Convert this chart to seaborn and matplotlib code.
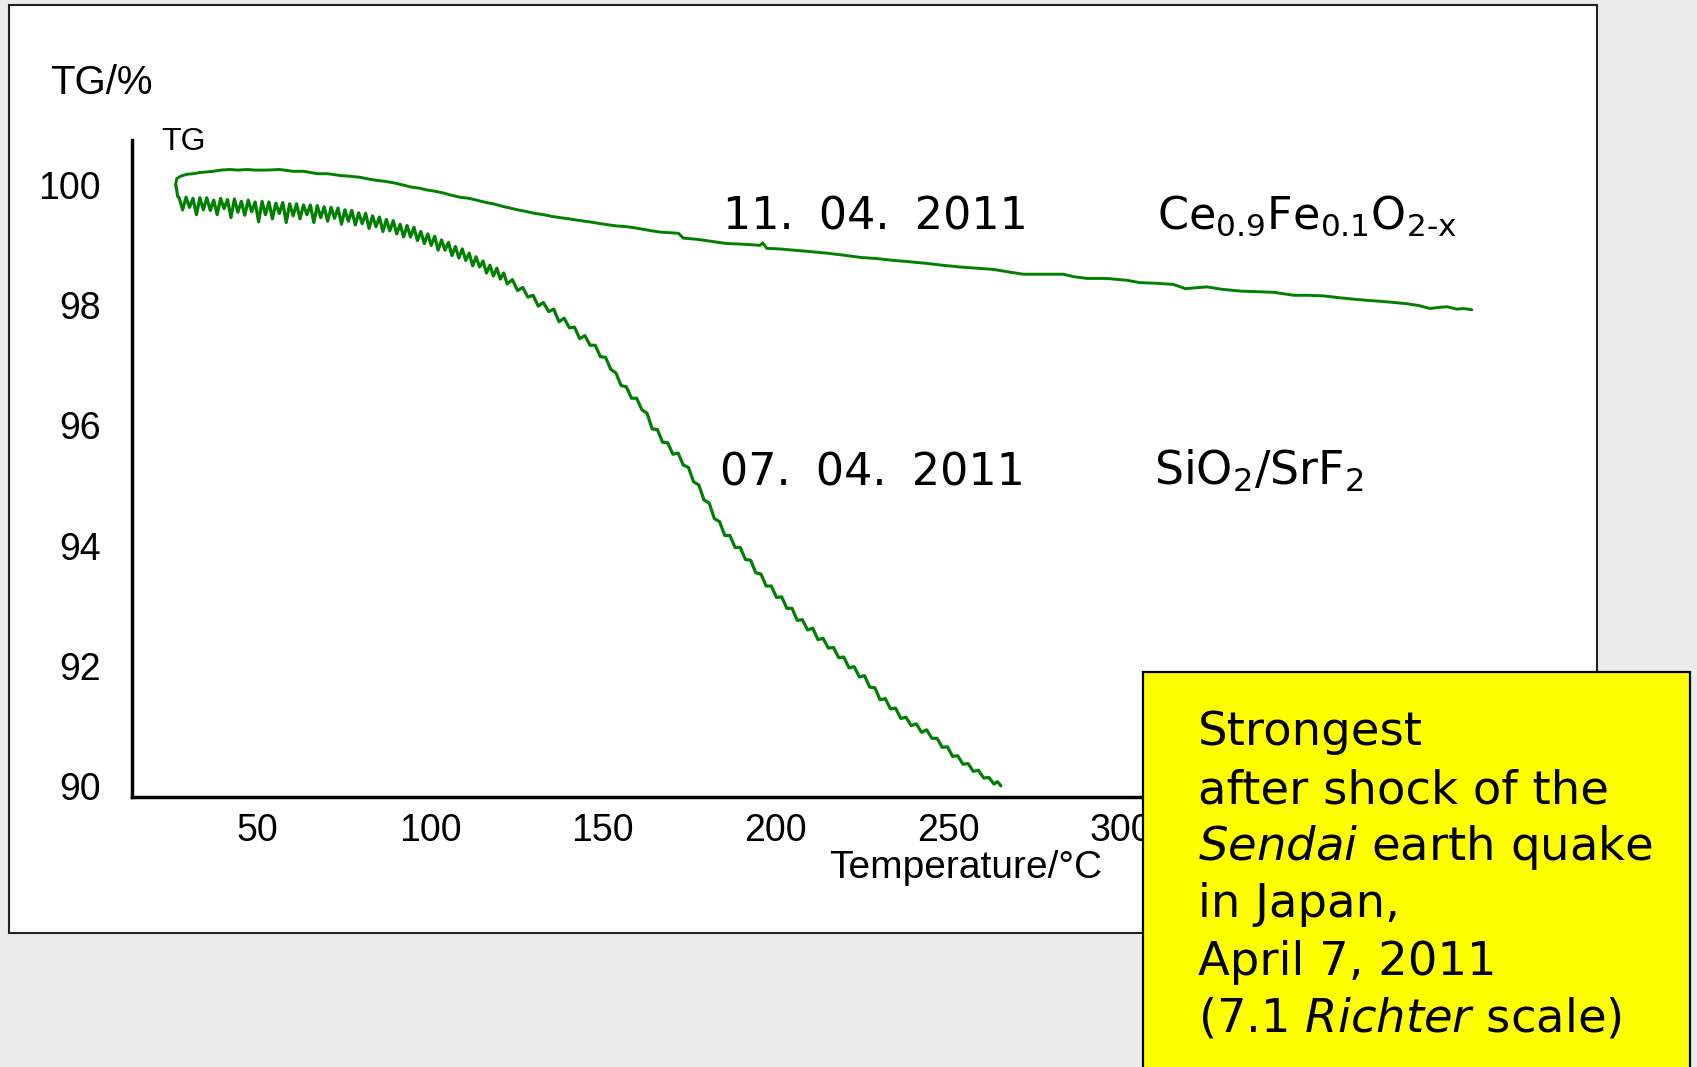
import matplotlib
matplotlib.use("Agg")
import matplotlib.pyplot as plt
from matplotlib.patches import Rectangle
from matplotlib.ticker import MultipleLocator
from matplotlib.transforms import ScaledTranslation
import pandas as pd
import seaborn as sns

# ---- TG curves (temperature in °C, mass in %) ----
# Ce0.9Fe0.1O2-x, measured 11.04.2011
ce_temp = [24.0, 24.3, 25.5, 27.2, 29.0, 31.0, 33.0, 34.9, 37.0, 39.7, 42.0, 44.6, 47.0,
           50.3, 54.0, 58.0, 61.0, 65.0, 68.0, 71.6, 74.0, 77.4, 80.0, 82.2, 85.0, 87.0,
           90.0, 92.0, 94.5, 96.7, 99.0, 101.5, 104.0, 106.3, 109.0, 111.2, 114.0, 116.0,
           118.5, 120.8, 123.0, 125.7, 128.0, 130.5, 133.0, 135.3, 138.0, 140.1, 142.5,
           145.0, 147.0, 149.3, 152.0, 154.6, 157.0, 159.0, 162.0, 164.3, 167.0, 169.6,
           171.0, 175.0, 178.7, 181.0, 183.6, 188.0, 193.2, 194.0, 195.2, 199.0, 202.9,
           207.0, 212.6, 217.0, 222.2, 227.0, 231.8, 236.0, 241.5, 246.0, 251.2, 256.0,
           260.8, 265.0, 269.5, 274.3, 281.1, 284.0, 287.9, 293.6, 299.4, 303.3, 308.0,
           313.0, 316.4, 322.6, 327.0, 332.3, 337.0, 342.0, 347.8, 352.0, 356.4, 361.0,
           366.1, 372.9, 377.0, 380.6, 384.0, 387.3, 390.0, 392.2, 395.1, 397.0, 399.4]
ce_tg = [100.00, 100.10, 100.14, 100.17, 100.18, 100.20, 100.21, 100.22, 100.24, 100.25,
         100.24, 100.25, 100.24, 100.24, 100.25, 100.22, 100.22, 100.18, 100.18, 100.15,
         100.14, 100.12, 100.09, 100.07, 100.05, 100.03, 99.99, 99.96, 99.94, 99.91,
         99.89, 99.86, 99.82, 99.79, 99.77, 99.74, 99.70, 99.68, 99.64, 99.61, 99.58,
         99.55, 99.52, 99.50, 99.47, 99.45, 99.43, 99.41, 99.39, 99.37, 99.35, 99.33,
         99.31, 99.30, 99.28, 99.26, 99.23, 99.21, 99.20, 99.19, 99.11, 99.09, 99.06,
         99.04, 99.02, 99.01, 98.99, 99.03, 98.94, 98.93, 98.91, 98.89, 98.86, 98.83,
         98.79, 98.77, 98.74, 98.72, 98.69, 98.66, 98.63, 98.61, 98.59, 98.55, 98.51,
         98.51, 98.51, 98.47, 98.44, 98.44, 98.41, 98.37, 98.36, 98.34, 98.27, 98.30,
         98.26, 98.23, 98.22, 98.21, 98.16, 98.16, 98.15, 98.12, 98.09, 98.06, 98.04,
         98.02, 97.99, 97.94, 97.96, 97.97, 97.93, 97.94, 97.92]

# SiO2/SrF2, measured 07.04.2011 (noisy trace)
sio2_temp = [24.0, 24.3, 24.6, 25.0, 26.0, 27.0, 28.0, 29.0, 30.0, 31.0, 32.0, 33.0, 34.0,
             35.0, 36.0, 37.0, 38.0, 39.0, 40.0, 41.0, 42.0, 43.0, 44.0, 45.0, 46.0, 47.0,
             48.0, 49.0, 50.0, 51.0, 52.0, 53.0, 54.0, 55.0, 56.0, 57.0, 58.0, 59.0, 60.0,
             61.0, 62.0, 63.0, 64.0, 65.0, 66.0, 67.0, 68.0, 69.0, 70.0, 71.0, 72.0, 73.0,
             74.0, 75.0, 76.0, 77.0, 78.0, 79.0, 80.0, 81.0, 82.0, 83.0, 84.0, 85.0, 86.0,
             87.0, 88.0, 89.0, 90.0, 91.0, 92.0, 93.0, 94.0, 95.0, 96.0, 97.0, 98.0, 99.0,
             100.0, 101.0, 102.0, 103.0, 104.0, 105.0, 106.0, 107.0, 108.0, 109.0, 110.0,
             111.0, 112.0, 113.0, 114.0, 115.0, 116.0, 117.0, 118.0, 119.0, 120.0, 121.5,
             123.0, 124.5, 126.0, 127.5, 129.0, 130.5, 132.0, 133.5, 135.0, 136.5, 138.0,
             139.5, 141.0, 142.5, 144.0, 145.5, 147.0, 148.5, 150.0, 151.5, 153.0, 154.5,
             156.0, 157.5, 159.0, 160.5, 162.0, 163.5, 165.0, 166.5, 168.0, 169.5, 171.0,
             172.5, 174.0, 175.5, 177.0, 178.5, 180.0, 181.5, 183.0, 184.5, 186.0, 187.5,
             189.0, 190.5, 192.0, 193.5, 195.0, 196.5, 198.0, 199.5, 201.0, 202.5, 204.0,
             205.5, 207.0, 208.5, 210.0, 211.5, 213.0, 214.5, 216.0, 217.5, 219.0, 220.5,
             222.0, 223.5, 225.0, 226.5, 228.0, 229.5, 231.0, 232.5, 234.0, 235.5, 237.0,
             238.5, 240.0, 241.5, 243.0, 244.5, 246.0, 247.5, 249.0, 250.5, 252.0, 253.5,
             255.0, 256.5, 258.0, 259.5, 261.0, 262.0, 263.0]
sio2_tg = [100.00, 99.90, 99.80, 99.78, 99.58, 99.79, 99.62, 99.77, 99.50, 99.78, 99.58,
           99.78, 99.57, 99.74, 99.50, 99.77, 99.60, 99.75, 99.45, 99.76, 99.54, 99.72,
           99.49, 99.74, 99.55, 99.71, 99.38, 99.72, 99.50, 99.71, 99.43, 99.69, 99.52,
           99.70, 99.37, 99.68, 99.48, 99.68, 99.43, 99.66, 99.50, 99.66, 99.37, 99.65,
           99.45, 99.63, 99.39, 99.62, 99.44, 99.61, 99.34, 99.58, 99.39, 99.57, 99.33,
           99.53, 99.35, 99.52, 99.27, 99.48, 99.30, 99.46, 99.22, 99.42, 99.23, 99.40,
           99.18, 99.34, 99.13, 99.32, 99.13, 99.29, 99.07, 99.22, 99.02, 99.18, 98.99,
           99.14, 98.91, 99.08, 98.91, 99.04, 98.82, 98.97, 98.78, 98.93, 98.74, 98.86,
           98.65, 98.80, 98.63, 98.73, 98.53, 98.66, 98.48, 98.61, 98.43, 98.53, 98.35,
           98.42, 98.24, 98.29, 98.13, 98.16, 97.98, 98.04, 97.89, 97.93, 97.72, 97.78,
           97.62, 97.63, 97.44, 97.49, 97.33, 97.33, 97.14, 97.13, 96.93, 96.87, 96.66,
           96.64, 96.45, 96.45, 96.26, 96.20, 95.94, 95.93, 95.72, 95.71, 95.52, 95.54,
           95.34, 95.30, 95.06, 95.01, 94.76, 94.71, 94.45, 94.40, 94.17, 94.17, 93.97,
           93.97, 93.77, 93.76, 93.55, 93.53, 93.33, 93.33, 93.14, 93.15, 92.96, 92.96,
           92.76, 92.77, 92.60, 92.63, 92.44, 92.46, 92.30, 92.31, 92.14, 92.15, 91.97,
           91.99, 91.82, 91.84, 91.65, 91.64, 91.44, 91.46, 91.29, 91.30, 91.13, 91.15,
           91.01, 91.04, 90.90, 90.94, 90.80, 90.80, 90.65, 90.66, 90.50, 90.51, 90.37,
           90.38, 90.25, 90.27, 90.14, 90.15, 90.04, 90.08, 90.01]

x_major = [50, 100, 150, 200, 250, 300, 350, 400]
x_labels = ["50", "100", "150", "200", "250", "300", "", ""]   # last two sit under the call-out box
y_major = [90, 92, 94, 96, 98, 100]
y_labels = ["90", "92", "94", "96", "98", "100"]

curve_color = "#008000"

# ---- style ----
sns.set_style("white")
plt.rcParams["font.family"] = ["Liberation Sans", "DejaVu Sans"]
plt.rcParams["text.color"] = "black"
plt.rcParams["xtick.color"] = "black"
plt.rcParams["ytick.color"] = "black"
plt.rcParams["axes.labelcolor"] = "black"
plt.rcParams["mathtext.fontset"] = "custom"
plt.rcParams["mathtext.rm"] = "DejaVu Sans"
plt.rcParams["mathtext.it"] = "DejaVu Sans:italic"
plt.rcParams["mathtext.default"] = "regular"

W, H = 1697, 1067
fig = plt.figure(figsize=(W / 100, H / 100), dpi=100)
fig.patch.set_facecolor("#ebebeb")


def fx(px):
    return px / W


def fy(py):
    return 1 - py / H


# white slide panel behind the plot
panel = Rectangle((fx(9), fy(933)), fx(1597) - fx(9), fy(5) - fy(933),
                  transform=fig.transFigure, facecolor="white",
                  edgecolor="#222222", lw=1.5, zorder=-5)
fig.add_artist(panel)

ax = fig.add_axes([fx(131.7), fy(796.7), fx(1543) - fx(131.7), fy(140) - fy(796.7)])
ax.patch.set_visible(False)

ce_df = pd.DataFrame({"T": ce_temp, "TG": ce_tg})
si_df = pd.DataFrame({"T": sio2_temp, "TG": sio2_tg})
sns.lineplot(data=ce_df, x="T", y="TG", sort=False, estimator=None,
             color=curve_color, lw=2.1, ax=ax)
sns.lineplot(data=si_df, x="T", y="TG", sort=False, estimator=None,
             color=curve_color, lw=2.3, ax=ax)

ax.set_xlim(11.25, 420)
ax.set_ylim(89.83, 100.74)
ax.set_xlabel("")
ax.set_ylabel("")
ax.set_xticks(x_major, x_labels)
ax.set_yticks(y_major, y_labels)
ax.xaxis.set_minor_locator(MultipleLocator(25))
ax.yaxis.set_minor_locator(MultipleLocator(1))

for side in ("top", "right"):
    ax.spines[side].set_visible(False)
for side in ("left", "bottom"):
    ax.spines[side].set_linewidth(2.5)
    ax.spines[side].set_color("black")

ax.tick_params(which="major", direction="out", length=6.5, width=2.5,
               colors="black", labelsize=27)
ax.tick_params(which="minor", direction="out", length=3.5, width=2.5, colors="black")
ax.tick_params(axis="y", which="major", pad=16)
ax.tick_params(axis="x", which="major", pad=5)

# x tick labels sit slightly left of their ticks
shift = ScaledTranslation(-8 / 100, 0, fig.dpi_scale_trans)
for lab in ax.get_xticklabels():
    lab.set_transform(lab.get_transform() + shift)

# axis captions
fig.text(fx(50), fy(94), "TG/%", fontsize=29, va="baseline", ha="left")
fig.text(fx(161), fy(150), "TG", fontsize=23, va="baseline", ha="left")
fig.text(fx(829), fy(878), "Temperature/°C", fontsize=28, va="baseline", ha="left")

# sample annotations
note_kw = dict(fontsize=32, va="baseline", ha="left", family="DejaVu Sans")
fig.text(fx(723), fy(229), "11.\u2005 04.\u2005 2011", **note_kw)
fig.text(fx(1157), fy(229), "Ce$_{0.9}$Fe$_{0.1}$O$_{2\u2010x}$", **note_kw)
fig.text(fx(720), fy(485), "07.\u2005 04.\u2005 2011", **note_kw)
fig.text(fx(1154), fy(485), "SiO$_{2}$/SrF$_{2}$", fontsize=33, va="baseline",
         ha="left", family="DejaVu Sans")

# yellow call-out box
box = Rectangle((fx(1143), -0.02), fx(1689.5) - fx(1143), fy(671.7) + 0.02,
                transform=fig.transFigure, facecolor="#ffff00",
                edgecolor="black", lw=1.6, zorder=5)
fig.add_artist(box)

box_lines = [
    "Strongest",
    "after shock of the",
    r"$\mathit{Sendai}$ earth quake",
    "in Japan,",
    "April 7, 2011",
    r"(7.1 $\mathit{Richter}$ scale)",
]
baselines = [745, 803, 860, 916.7, 975, 1031.7]
for line, yb in zip(box_lines, baselines):
    fig.text(fx(1198), fy(yb), line, fontsize=33.5, va="baseline", ha="left",
             family="DejaVu Sans", zorder=6)

fig.savefig("out.png", dpi=100, facecolor=fig.get_facecolor())
